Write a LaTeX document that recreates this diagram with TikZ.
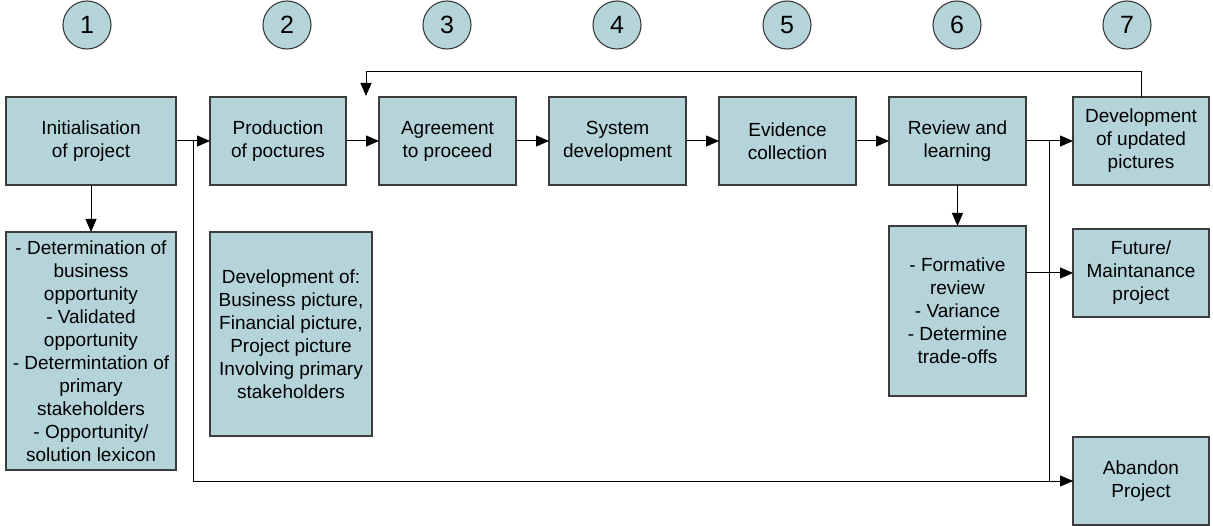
\documentclass[tikz,border=0pt]{standalone}
\usepackage{fontspec}
\setmainfont{Liberation Sans}
\usetikzlibrary{arrows.meta}
\definecolor{boxfill}{RGB}{180,212,218}
\definecolor{boxline}{RGB}{60,60,60}
\begin{document}
\begin{tikzpicture}[x=1pt,y=-1pt,
  every node/.style={inner sep=0pt,outer sep=0pt},
  stage/.style={draw=boxline,line width=1.1pt,fill=boxfill,align=center,
    font=\fontsize{19}{23}\selectfont},
  num/.style={circle,draw=boxline,line width=1.1pt,fill=boxfill,minimum size=48pt,
    font=\fontsize{25}{28}\selectfont},
  arr/.style={line width=1pt,-{Triangle[length=13pt,width=11pt]}},
  ln/.style={line width=1pt}]
\useasboundingbox (0,0) rectangle (1213,526);

% step numbers
\node[num] (n1) at (87,25) {1};
\node[num] (n2) at (287,25) {2};
\node[num] (n3) at (447,25) {3};
\node[num] (n4) at (617,25) {4};
\node[num] (n5) at (787,25) {5};
\node[num] (n6) at (957,25) {6};
\node[num] (n7) at (1127,25) {7};

% main row of stages
\node[stage,minimum width=170pt,minimum height=88pt] (b1) at (91,141) {Initialisation\\of project};
\node[stage,minimum width=136pt,minimum height=88pt] (b2) at (278,141) {Production\\of poctures};
\node[stage,minimum width=137pt,minimum height=88pt] (b3) at (447.5,141) {Agreement\\to proceed};
\node[stage,minimum width=137pt,minimum height=88pt] (b4) at (617.5,141) {System\\development};
\node[stage,minimum width=137pt,minimum height=88pt] (b5) at (787.5,141) {Evidence\\collection};
\node[stage,minimum width=137pt,minimum height=88pt] (b6) at (957.5,141) {Review and\\learning};
\node[stage,minimum width=136pt,minimum height=88pt] (b7) at (1141,141) {Development\\of updated\\pictures};

% detail boxes
\node[stage,minimum width=170pt,minimum height=238pt] (s1) at (91,351)
  {- Determination of\\business\\opportunity\\- Validated\\opportunity\\- Determintation of\\primary\\stakeholders\\- Opportunity/\\solution lexicon};
\node[stage,minimum width=162pt,minimum height=204pt] (s2) at (291,334)
  {Development of:\\Business picture,\\Financial picture,\\Project picture\\Involving primary\\stakeholders};
\node[stage,minimum width=137pt,minimum height=170pt] (s6) at (957.5,311)
  {- Formative\\review\\- Variance\\- Determine\\trade-offs};
\node[stage,minimum width=136pt,minimum height=88pt] (fut) at (1141,273) {Future/\\Maintanance\\project};
\node[stage,minimum width=136pt,minimum height=88pt] (ab) at (1141,481) {Abandon\\Project};

% junctions and free ends
\coordinate (j1) at (193,141);
\coordinate (j6) at (1049,141);
\coordinate (fbend) at (366,96);

% connectors
\draw[arr] (b1) -- (b2);
\draw[arr] (b2) -- (b3);
\draw[arr] (b3) -- (b4);
\draw[arr] (b4) -- (b5);
\draw[arr] (b5) -- (b6);
\draw[arr] (b6) -- (b7);
\draw[arr] (b1) -- (s1);
\draw[arr] (b6) -- (s6);
\draw[arr] (s6.east |- fut.west) -- (fut.west);
\draw[arr] (j1) |- (ab.west);
\draw[ln] (j6) |- (ab.west);
\draw[arr] (b7.north) -- ++(0,-25) -| (fbend);
\end{tikzpicture}
\end{document}
